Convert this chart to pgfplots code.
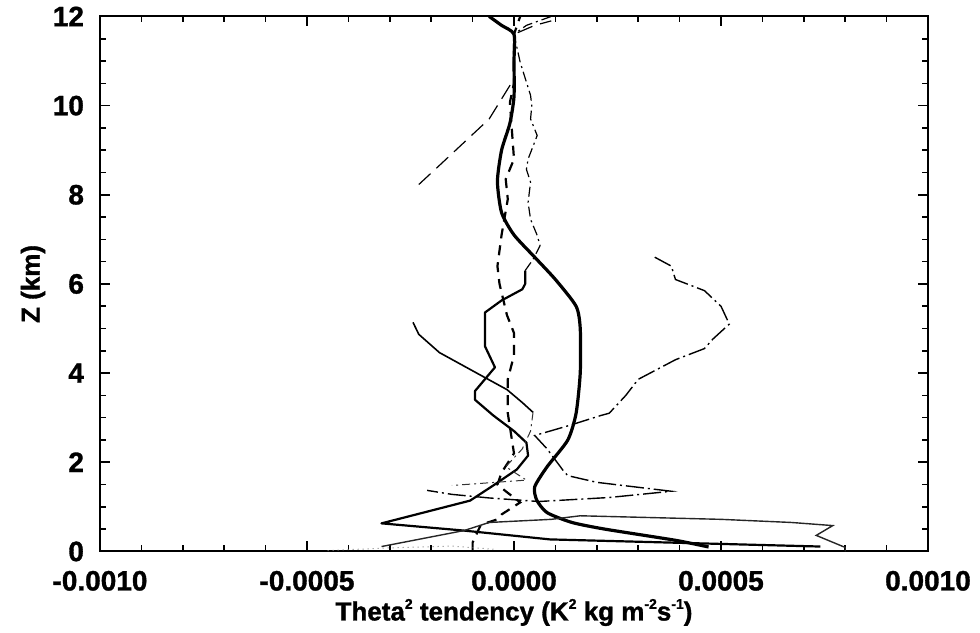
\documentclass[border=0pt]{standalone}
\usepackage{fontspec}
\setmainfont{Liberation Sans}[BoldFeatures={FakeBold=1.2}]
\usepackage{pgfplots}
\pgfplotsset{compat=1.18}
\usetikzlibrary{calc}
\newcommand{\sqsup}[1]{\raisebox{0.85ex}{\fontsize{7}{7}\selectfont\bfseries #1}}

\begin{document}
\begin{tikzpicture}
\begin{axis}[
  name=main,
  scale only axis,
  width=414pt, height=267.5pt,
  xmin=-0.001, xmax=0.001,
  ymin=0, ymax=12,
  scaled x ticks=false,
  xtick={-0.001,-0.0005,0,0.0005,0.001},
  xticklabels={-0.0010,-0.0005,0.0000,0.0005,0.0010},
  minor x tick num=4,
  ytick={0,2,4,6,8,10,12},
  yticklabels={0,2,4,6,8,10,12},
  minor y tick num=3,
  tick align=inside,
  major tick length=5pt,
  minor tick length=3pt,
  every tick/.style={black, line width=0.8pt},
  axis line style={line width=1pt},
  /pgf/number format/assume math mode=true,
  tick label style={font=\fontsize{14}{14}\selectfont\bfseries},
  xticklabel style={anchor=base, yshift=-19.5pt},
  yticklabel style={anchor=east, xshift=-4.5pt},
  xlabel={Theta\sqsup{2} tendency (K\sqsup{2} kg m\sqsup{-2}s\sqsup{-1})},
  ylabel={Z (km)},
  label style={font=\fontsize{13}{13}\selectfont\bfseries},
  xlabel style={at={(axis description cs:0.5,0)}, anchor=base, yshift=-34.5pt},
  ylabel style={at={(axis description cs:0,0.5)}, anchor=center, yshift=33.5pt},
]

% thick solid profile
\addplot[black, line width=1.6pt, line join=round, smooth, tension=0.4] coordinates {
(0.00047,0.10) (0.00039,0.25) (0.00022,0.50) (0.00014,0.65) (0.00008,0.87)
(0.000055,1.15) (0.00005,1.45) (0.00008,1.9) (0.00013,2.5) (0.00015,3.1)
(0.00016,4.0) (0.00016,5.0) (0.00015,5.5) (0.00010,6.1) (0.00005,6.6)
(0.0,7.1) (-0.00003,7.6) (-0.00004,8.3) (-0.00003,9.0) (-0.00001,9.6)
(0.0,10.2) (0.0,11.0) (0.0,11.6) (-0.00003,11.8) (-0.00006,12.0)
};

% medium solid profile, lower part
\addplot[black, line width=1.1pt, line join=round] coordinates {
(0.00074,0.11) (0.000087,0.27) (-0.000123,0.47) (-0.00032,0.63)
(-0.000106,1.14) (-0.00005,1.48) (0.000007,1.84) (0.000034,2.15)
(0.00003,2.44) (0.0,2.7) (-0.00005,3.05) (-0.000094,3.4) (-0.000094,3.6)
(-0.000046,4.13) (-0.00007,4.6) (-0.00007,5.36) (-0.00003,5.63)
(0.00002,5.88) (0.000027,6.0) (0.000027,6.3)
};

% same profile, upper part (thin dash-dot)
\addplot[black, line width=0.6pt, dash pattern=on 5pt off 2pt on 1pt off 2pt] coordinates {
(0.000027,6.3) (0.000046,6.55) (0.000063,6.86) (0.000056,7.09) (0.00004,7.45)
(0.000034,7.83) (0.00004,8.28) (0.00003,8.57) (0.000034,8.8) (0.000056,9.33)
(0.00004,9.7) (0.000043,10.0) (0.00004,10.23) (0.000015,10.97) (0.0,11.6)
(0.00003,11.8) (0.00009,12.0)
};

% dashed profile
\addplot[black, line width=1.1pt, dash pattern=on 5pt off 3.5pt] coordinates {
(-0.0001,0.02) (-0.0001,0.2) (-0.00008,0.6) (-0.00004,0.72) (-0.00003,0.83)
(0.000015,1.1) (-0.00002,1.35) (-0.00004,1.5) (-0.00003,1.77) (0.0,2.2)
(-0.000015,3.1) (-0.000015,3.86) (0.0,4.4) (0.0,4.9) (-0.000017,5.3)
(-0.000035,6.0) (-0.00004,6.4) (-0.00003,7.1) (-0.000015,7.9)
(-0.00002,8.35) (0.0,8.8) (-0.00001,10.07) (0.0,10.5) (0.0,11.0)
(0.0,11.6) (0.000015,12.0)
};

% thin long-dash profile, upper levels
\addplot[black, line width=0.6pt, dash pattern=on 8pt off 4pt] coordinates {
(-0.00023,8.23) (-0.00018,8.66) (-0.00009,9.44) (-0.00006,9.7)
(-0.00002,10.3) (0.0,10.6) (0.0,11.2) (0.0,11.6) (0.00005,11.8) (0.00009,11.9)
};

% thin solid segment, mid levels
\addplot[black, line width=0.8pt] coordinates {
(-0.000244,5.14) (-0.00023,4.87) (-0.00018,4.46) (-0.00008,3.95)
(-0.000017,3.63) (0.00002,3.34) (0.000046,3.12)
};
\addplot[black!80, line width=0.5pt, dash pattern=on 4pt off 2pt on 1pt off 2pt] coordinates {
(0.000046,3.12) (0.00004,2.7) (0.00002,2.3) (-0.00002,1.9) (0.00003,1.6) (-0.00015,1.48)
};

% long-dash-dot profile with the positive bulge
\addplot[black, line width=0.7pt, dash pattern=on 9pt off 2pt on 1pt off 2pt] coordinates {
(0.00034,6.6) (0.00038,6.4) (0.00039,6.1) (0.00046,5.85) (0.0005,5.5)
(0.00052,5.1) (0.00048,4.76) (0.00046,4.55) (0.00039,4.3) (0.0003,3.86)
(0.00027,3.5) (0.00023,3.1) (0.00021,3.05) (0.000135,2.83) (0.00005,2.6)
(0.00008,2.3) (0.00012,1.8) (0.00013,1.7) (0.0002,1.55) (0.00038,1.35)
(0.00023,1.21) (0.00006,1.12) (-0.00006,1.2) (-0.00015,1.28) (-0.00021,1.37)
};

% thin solid profile near the surface
\addplot[black!85, line width=0.7pt] coordinates {
(-0.00032,0.11) (-0.00012,0.47) (-0.00006,0.65) (0.00009,0.72) (0.00016,0.8)
(0.0005,0.72) (0.00067,0.65) (0.00077,0.58) (0.00073,0.36) (0.0008,0.09) (0.0008,0.0)
};

% faint dotted surface trace
\addplot[black!50, line width=0.5pt, dotted] coordinates {
(-0.00045,0.02) (-0.0003,0.08) (-0.00015,0.12) (-0.00005,0.05)
};

\end{axis}
% page margins around the plot area
\path ($(main.south west)+(-50pt,-39pt)$) rectangle ($(main.north east)+(26pt,7pt)$);
\end{tikzpicture}
\end{document}
